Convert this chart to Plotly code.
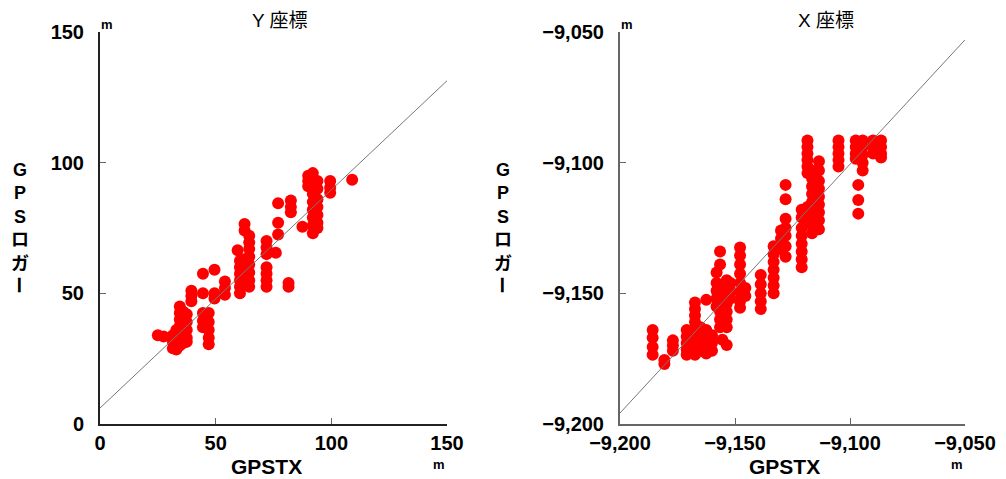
import plotly.graph_objects as go

W, H = 1006, 479

# ---------------- data: Y座標 (left) ----------------
y_gpstx = [25, 27.5,
           31.5, 31.5, 31.5,
           33, 33, 33, 33,
           34.5, 34.5, 34.5, 34.5, 34.5, 34.5, 34.5,
           36, 36, 36, 36, 36,
           37.5, 37.5, 37.5, 37.5, 37.5,
           39.5, 39.5, 39.5,
           44.5, 44.5, 44.5, 44.5, 44.5,
           47, 47, 47, 47, 47,
           49.5, 49.5, 49.5,
           54, 54, 54,
           59.5,
           60.5, 60.5, 60.5, 60.5, 60.5, 60.5,
           62.5, 62.5, 62.5, 62.5, 62.5, 62.5,
           64.5, 64.5, 64.5, 64.5, 64.5, 64.5, 64.5, 64.5,
           72, 72, 72, 72, 72, 72, 72,
           76,
           77, 77, 77,
           82.5, 82.5, 82.5,
           81.5, 81.5,
           87.5,
           90, 90, 90,
           92, 92, 92, 92, 92, 92, 92, 92, 92,
           94, 94, 94, 94, 94, 94, 94,
           99.5, 99.5, 99.5,
           109]
y_logger = [34, 33.5,
            34, 31.5, 29,
            36, 33, 30.5, 28.5,
            45, 42.5, 40, 37.5, 35, 32.5, 30,
            43, 40, 37, 34, 31,
            42, 39, 36, 33, 31.5,
            51, 49, 47,
            57.5, 50, 42.5, 39.5, 37,
            42.5, 39, 36, 33, 30.5,
            59, 50, 48,
            54.5, 52, 49.5,
            66.5,
            62.5, 60, 57.5, 55, 52.5, 50,
            76.5, 74, 63, 60, 57, 54.5,
            72, 69.5, 67, 64, 61, 58, 55, 52.5,
            70, 67.5, 65, 60, 57.5, 55, 52.5,
            65.5,
            84.5, 77, 72.5,
            85.5, 83, 81,
            54, 52.5,
            75.5,
            95, 93, 91,
            96, 94, 91, 88, 85, 82, 79, 76, 73,
            93, 90, 86, 83, 80, 77, 75,
            93, 90.5, 88.5,
            93.5]
y_fit_intercept, y_fit_slope = 6.1, 0.835
y_axis_range = [0, 150]
y_ticks = [0, 50, 100, 150]
y_ticktext = ["0", "50", "100", "150"]

# ---------------- data: X座標 (right) ----------------
x_gpstx = [-9185.8, -9185.8, -9185.8, -9185.8,
           -9180.7, -9180.7,
           -9177, -9177, -9177,
           -9171, -9171, -9171, -9171, -9171,
           -9167.4, -9167.4, -9167.4, -9167.4, -9167.4, -9167.4, -9167.4, -9167.4, -9167.4,
           -9165, -9165, -9165, -9165,
           -9162.5, -9162.5, -9162.5, -9162.5, -9162.5,
           -9160, -9160, -9160,
           -9155.5, -9153.6,
           -9158, -9158, -9158, -9158, -9158,
           -9156.5, -9156.5, -9156.5, -9156.5, -9156.5, -9156.5, -9156.5, -9156.5,
           -9153.6, -9153.6, -9153.6, -9153.6, -9153.6, -9153.6, -9153.6,
           -9152, -9152, -9152,
           -9147.8, -9147.8, -9147.8, -9147.8, -9147.8, -9147.8, -9147.8, -9147.8,
           -9145.5, -9145.5,
           -9138.8, -9138.8, -9138.8, -9138.8, -9138.8,
           -9133.2, -9133.2, -9133.2, -9133.2, -9133.2, -9133.2, -9133.2,
           -9130, -9130, -9130,
           -9128, -9128, -9128, -9128, -9128, -9128, -9128,
           -9121, -9121, -9121, -9121, -9121, -9121, -9121, -9121,
           -9118.5, -9118.5, -9118.5, -9118.5, -9118.5, -9118.5, -9118.5, -9118.5, -9118.5,
           -9116.5, -9116.5, -9116.5, -9116.5, -9116.5, -9116.5, -9116.5, -9116.5, -9116.5,
           -9113.5, -9113.5, -9113.5, -9113.5, -9113.5, -9113.5, -9113.5, -9113.5, -9113.5,
           -9105, -9105, -9105, -9105, -9105,
           -9097.5, -9097.5, -9097.5, -9097.5,
           -9096.4, -9096.4, -9096.4,
           -9094.5, -9094.5, -9094.5, -9094.5, -9094.5,
           -9090, -9090, -9090,
           -9086.5, -9086.5, -9086.5, -9086.5]
x_logger = [-9164, -9167, -9170.5, -9173.5,
            -9175.5, -9177,
            -9168, -9170, -9172,
            -9164, -9166.5, -9169, -9171.5, -9173.5,
            -9153.5, -9156, -9158.5, -9161, -9163.5, -9166, -9168.5, -9171, -9173.5,
            -9163, -9166, -9169, -9172,
            -9152.5, -9164, -9167, -9170, -9173,
            -9166, -9169, -9172,
            -9167.8, -9169.8,
            -9142, -9146, -9149, -9152, -9155,
            -9134, -9139, -9148, -9151, -9154, -9157, -9160, -9163,
            -9145, -9148, -9151, -9154, -9157, -9160, -9163,
            -9146, -9149, -9152,
            -9132.5, -9135.5, -9139, -9142.5, -9146, -9149.5, -9153, -9155.5,
            -9148, -9151,
            -9143, -9146.5, -9150, -9153, -9156,
            -9132, -9135, -9138, -9141, -9144, -9147, -9150,
            -9126, -9129, -9133,
            -9108.5, -9114, -9121.5, -9125, -9128, -9132, -9136,
            -9118, -9121, -9125, -9128, -9131, -9134, -9137, -9140,
            -9091.5, -9094, -9096.5, -9099, -9101.5, -9104, -9117, -9120, -9123,
            -9103, -9106, -9109, -9112, -9115, -9118, -9121, -9124, -9127,
            -9099.5, -9103, -9107, -9110, -9113, -9116, -9119, -9122, -9125.5,
            -9091.5, -9094, -9096.5, -9099, -9101.5,
            -9091.5, -9094, -9096.5, -9098.5,
            -9108.5, -9114.3, -9119.5,
            -9091.5, -9094, -9097, -9100, -9103,
            -9091.5, -9094, -9096.5,
            -9091.5, -9094, -9096.5, -9098]
x_fit_intercept, x_fit_slope = -437.4, 0.952
x_axis_range = [-9200, -9050]
x_ticks = [-9200, -9150, -9100, -9050]
x_ticktext = ["\u22129,200", "\u22129,150", "\u22129,100", "\u22129,050"]

titles = ["Y 座標", "X 座標"]
x_title = "GPSTX"
y_title = "GPSロガー"
unit = "m"

# ---------------- figure ----------------
fig = go.Figure()

fig.add_trace(go.Scatter(x=y_gpstx, y=y_logger, mode="markers", xaxis="x", yaxis="y",
                         marker=dict(color="#ff0000", size=12, line=dict(width=0)),
                         showlegend=False, cliponaxis=False))
fig.add_trace(go.Scatter(x=y_axis_range,
                         y=[y_fit_intercept + y_fit_slope * v for v in y_axis_range],
                         mode="lines", xaxis="x", yaxis="y",
                         line=dict(color="#777777", width=1), showlegend=False))
fig.add_trace(go.Scatter(x=x_gpstx, y=x_logger, mode="markers", xaxis="x2", yaxis="y2",
                         marker=dict(color="#ff0000", size=12, line=dict(width=0)),
                         showlegend=False, cliponaxis=False))
fig.add_trace(go.Scatter(x=x_axis_range,
                         y=[x_fit_intercept + x_fit_slope * v for v in x_axis_range],
                         mode="lines", xaxis="x2", yaxis="y2",
                         line=dict(color="#777777", width=1), showlegend=False))

tickfont = dict(family="Liberation Sans, Arial", size=20, color="#000000", weight="bold")


def ax(domain, rng, tv, tt, anchor, linecolor, standoff):
    return dict(domain=domain, range=rng, tickvals=tv, ticktext=tt, anchor=anchor,
                showgrid=False, zeroline=False, showline=True, linecolor=linecolor,
                linewidth=2, ticks="inside", ticklen=6, tickwidth=1,
                tickcolor="#666666", tickfont=tickfont, ticklabelstandoff=standoff,
                automargin=False, fixedrange=True)


ydom = [(H - 424) / H, (H - 32) / H]
fig.update_layout(
    width=W, height=H,
    margin=dict(l=0, r=0, t=0, b=0, pad=0, autoexpand=False),
    paper_bgcolor="white", plot_bgcolor="white",
    xaxis=ax([100 / W, 447 / W], y_axis_range, y_ticks, y_ticktext, "y", "#222222", 0),
    yaxis=ax(ydom, y_axis_range, y_ticks, y_ticktext, "x", "#222222", 10),
    xaxis2=ax([620 / W, 965 / W], x_axis_range, x_ticks, x_ticktext, "y2", "#666666", 0),
    yaxis2=ax(ydom, x_axis_range, x_ticks, x_ticktext, "x2", "#666666", 10),
)


def ann(text, px, py, size, bold=False, family="Liberation Sans, Arial", angle=0):
    fig.add_annotation(text=("<b>%s</b>" % text) if bold else text,
                       x=px / W, y=1 - py / H, xref="paper", yref="paper",
                       showarrow=False, xanchor="center", yanchor="middle",
                       textangle=angle,
                       font=dict(family=family, size=size, color="#000000"))


cjk = "Noto Sans CJK JP"
mixed = "Liberation Sans, Noto Sans CJK JP"
# titles
ann(titles[0], 280, 20, 19, family=mixed)
ann(titles[1], 826, 20, 19, family=mixed)
# x titles
ann(x_title, 266, 466, 21, bold=True)
ann(x_title, 784, 466, 21, bold=True)
# units
for (px, py) in [(107, 24), (439, 464), (627, 24), (957, 464)]:
    ann(unit, px, py, 13, bold=True)
# vertical y titles (stacked)
for cx in [20, 503]:
    ann("<br>".join(list(y_title[:-1])), cx, 217, 18, bold=True, family=mixed)
    ann(y_title[-1], cx, 285, 18, bold=True, family=cjk, angle=90)

fig.write_html("out.html")
